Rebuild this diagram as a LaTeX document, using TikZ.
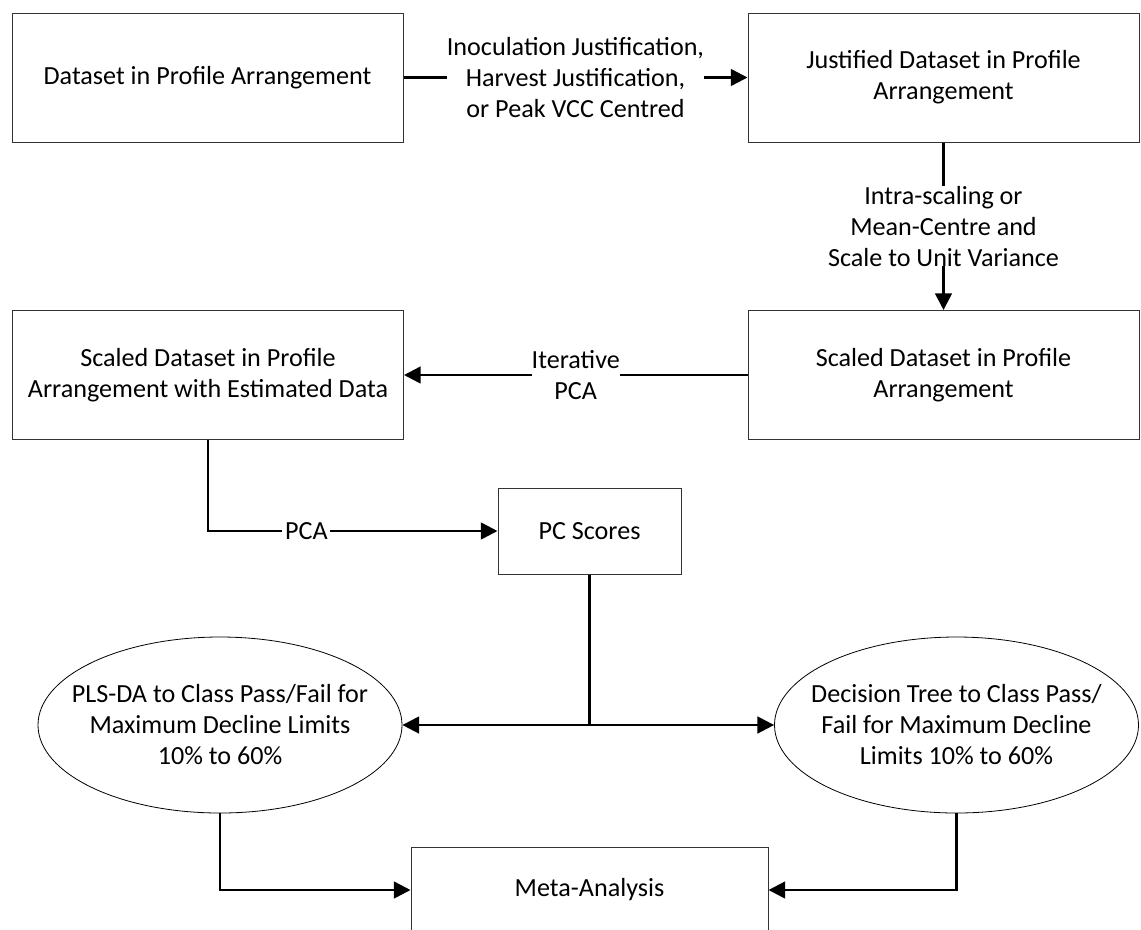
\documentclass[tikz,border=0pt]{standalone}
\usepackage{fontspec}
\setmainfont{Carlito}
\usetikzlibrary{arrows.meta,shapes.geometric}

\begin{document}
\begin{tikzpicture}[x=0.75pt,y=-0.75pt,
  every node/.style={font=\fontsize{19.6pt}{23.25pt}\selectfont, align=center, text=black},
  stagebox/.style={draw=black!80, line width=0.75pt, rectangle, inner sep=0pt},
  bigbox/.style={stagebox, minimum width=293.25pt, minimum height=96.75pt},
  smallbox/.style={stagebox, minimum width=137.25pt, minimum height=64.5pt},
  metabox/.style={stagebox, minimum width=267.75pt, minimum height=64.5pt},
  classifier/.style={draw=black, line width=0.6pt, ellipse, inner sep=0pt,
    minimum width=273pt, minimum height=132pt},
  conn/.style={line width=1.9pt, draw=black},
  arr/.style={conn, -{Triangle[length=12.5pt,width=12.5pt]}},
  edgelabel/.style={fill=white, inner sep=0pt},
]
\useasboundingbox (0,0) rectangle (1141,929);
\clip (0,0) rectangle (1141,929);

% processing stages
\node[bigbox] (raw)      at (207.5,77.5) {Dataset in Profile Arrangement};
\node[bigbox] (just)     at (943.5,77.5) {Justified Dataset in Profile\\Arrangement};
\node[bigbox] (scaled)   at (943.5,375)  {Scaled Dataset in Profile\\Arrangement};
\node[bigbox] (estim)    at (208,375)    {Scaled Dataset in Profile\\Arrangement with Estimated Data};
\node[smallbox] (scores) at (589.5,531)  {PC Scores};

% classifiers: outline and wording set separately so the ellipse keeps its size
\node[classifier] (plsda) at (220,725) {};
\node (plsdatext) at (plsda.center) {PLS-DA to Class Pass/Fail for\\Maximum Decline Limits\\10\% to 60\%};
\node[classifier] (dtree) at (956.5,725) {};
\node (dtreetext) at (dtree.center) {Decision Tree to Class Pass/\\Fail for Maximum Decline\\Limits 10\% to 60\%};

\node[metabox] (meta)    at (589.5,890)  {Meta-Analysis};
\coordinate (split) at (589.5,725);

% connectors
\draw[arr] (raw) -- node[edgelabel]{Inoculation Justification,\\Harvest Justification,\\or Peak VCC Centred} (just);
\draw[arr] (just) -- node[edgelabel]{Intra-scaling or\\Mean-Centre and\\Scale to Unit Variance} (scaled);
\draw[arr] (scaled) -- node[edgelabel]{Iterative\\PCA} (estim);
\draw[arr] (estim.south) |- node[pos=0.67, edgelabel, inner xsep=2pt]{PCA} (scores.west);
\draw[conn] (scores.south) -- (split);
\draw[arr] (split) -- (plsda.east);
\draw[arr] (split) -- (dtree.west);
\draw[arr] (plsda.south) |- (meta.west);
\draw[arr] (dtree.south) |- (meta.east);
\end{tikzpicture}
\end{document}
